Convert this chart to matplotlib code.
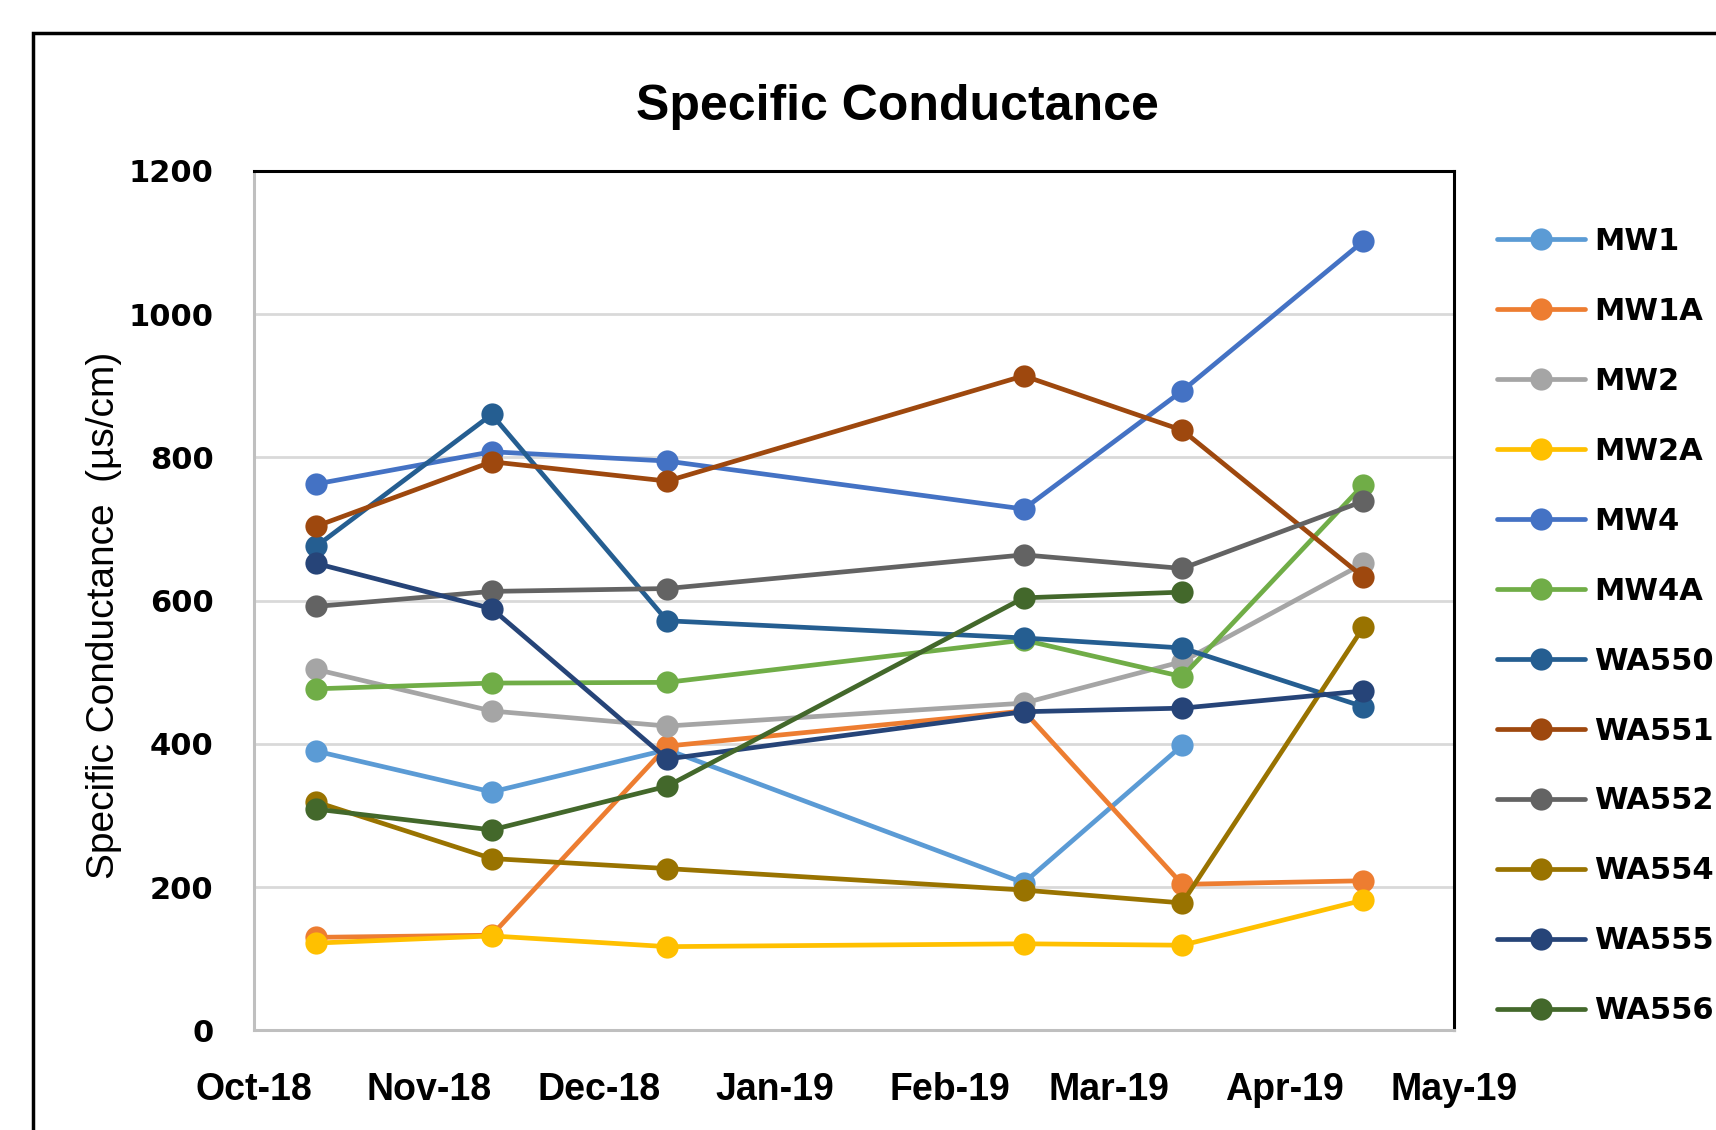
# -*- coding: utf-8 -*-
"""
Specific conductance of the monitoring wells, Oct-18 to May-19
"""
import datetime as dt

import numpy as np
import matplotlib
matplotlib.use("Agg")
import matplotlib.pyplot as plt
import matplotlib.dates as mdates
from matplotlib.patches import Rectangle

plt.rcParams['font.family'] = ['Liberation Sans', 'DejaVu Sans']

# sampling dates
dates = [dt.date(2018, 10, 12), dt.date(2018, 11, 12), dt.date(2018, 12, 13),
         dt.date(2019, 2, 14), dt.date(2019, 3, 14), dt.date(2019, 4, 15)]

wells = ["MW1", "MW1A", "MW2", "MW2A", "MW4", "MW4A",
         "WA550", "WA551", "WA552", "WA554", "WA555", "WA556"]

mw1 = [390, 333, 392, 206, 398, np.nan]
mw1a = [130, 133, 397, 446, 204, 209]
mw2 = [504, 446, 425, 457, 515, 652]
mw2a = [122, 132, 117, 121, 119, 182]
mw4 = [763, 808, 795, 728, 893, 1102]
mw4a = [477, 485, 486, 545, 494, 762]
wa550 = [676, 860, 572, 548, 534, 452]
wa551 = [704, 794, 767, 914, 838, 633]
wa552 = [592, 613, 617, 664, 645, 739]
wa554 = [319, 240, 226, 196, 178, 563]
wa555 = [652, 589, 379, 445, 450, 474]
wa556 = [309, 280, 341, 604, 612, np.nan]

series = [mw1, mw1a, mw2, mw2a, mw4, mw4a,
          wa550, wa551, wa552, wa554, wa555, wa556]

colors = ["#5B9BD5", "#ED7D31", "#A5A5A5", "#FFC000", "#4472C4", "#70AD47",
          "#255E91", "#9E480E", "#636363", "#997300", "#264478", "#43682B"]

fig = plt.figure(figsize=(17.16, 11.3), dpi=100)
ax = fig.add_axes([0.148, 0.0881, 0.6993, 0.7606])

for name, vals, col in zip(wells, series, colors):
    ax.plot(dates, vals, color=col, lw=3.4, marker='o', markersize=16,
            markeredgewidth=0, label=name, solid_capstyle='round')

ax.set_xlim(dt.date(2018, 10, 1), dt.date(2019, 5, 1))
ax.set_ylim(0, 1200)
ax.set_yticks(range(0, 1201, 200))
ax.xaxis.set_major_locator(mdates.MonthLocator())
ax.xaxis.set_major_formatter(mdates.DateFormatter('%b-%y'))

ax.grid(axis='y', color='#D9D9D9', lw=2)
ax.set_axisbelow(True)

ax.tick_params(axis='y', length=0, pad=29, labelsize=22)
ax.tick_params(axis='x', length=0, pad=30, labelsize=27)
for lab in ax.get_yticklabels():
    lab.set_family(['DejaVu Sans'])
    lab.set_fontweight('bold')
for lab in ax.get_xticklabels():
    lab.set_fontweight('bold')

for side in ['top', 'right']:
    ax.spines[side].set_color('black')
    ax.spines[side].set_linewidth(2.2)
for side in ['left', 'bottom']:
    ax.spines[side].set_color('#BFBFBF')
    ax.spines[side].set_linewidth(2.2)

fig.text(0.523, 0.894, "Specific Conductance", ha='center', va='baseline',
         fontsize=36, fontweight='bold')
fig.text(0.0606, 0.455, "Specific Conductance  (µs/cm)", rotation=90,
         ha='center', va='center', fontsize=28)

leg = fig.legend(loc='upper left', bbox_to_anchor=(0.865, 0.81),
                 frameon=False, handlelength=2.9, handletextpad=0.3,
                 labelspacing=1.34, borderaxespad=0,
                 prop={'family': 'DejaVu Sans', 'weight': 'bold', 'size': 22})

# outer chart border, cut off on the right and bottom like the source
fig.patches.append(Rectangle((33 / 1716, -0.1), 1.2, 1.1 - 33 / 1130,
                             transform=fig.transFigure, fill=False,
                             edgecolor='black', lw=2.5, clip_on=False))

fig.savefig("out.png", dpi=100)
